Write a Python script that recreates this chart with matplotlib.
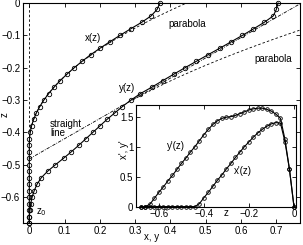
import matplotlib
matplotlib.use('Agg')
import matplotlib.pyplot as plt
import numpy as np

plt.rcParams['font.family'] = ['Liberation Sans', 'DejaVu Sans']
plt.rcParams['font.size'] = 7
plt.rcParams['xtick.direction'] = 'in'
plt.rcParams['ytick.direction'] = 'in'

# ---------------- data ----------------
z = [-0.68, -0.66, -0.64, -0.62, -0.60, -0.58, -0.56, -0.54, -0.52, -0.50,
     -0.48, -0.46, -0.44, -0.42, -0.40, -0.38, -0.36, -0.34, -0.32, -0.30,
     -0.28, -0.26, -0.24, -0.22, -0.20, -0.18, -0.16, -0.14, -0.12, -0.10,
     -0.08, -0.06, -0.04, -0.02, 0.00]

x_of_z = [0, 0, 0, 0, 0, 0, 0, 0, 0, 0,
          0, 0, 0, 0.0005, 0.0025, 0.0064, 0.0122, 0.0200, 0.0297, 0.0413,
          0.0548, 0.0702, 0.0875, 0.1066, 0.1274, 0.1498, 0.1737, 0.2000, 0.228, 0.257,
          0.287, 0.318, 0.345, 0.362, 0.370]

y_of_z = [0, 0, 0.002, 0.004, 0.008, 0.014, 0.022, 0.034, 0.052, 0.074,
          0.097, 0.119, 0.140, 0.160, 0.180, 0.200, 0.220, 0.242, 0.264, 0.288,
          0.315, 0.3474, 0.3781, 0.4094, 0.4413, 0.4737, 0.5064, 0.5392, 0.5718, 0.6039,
          0.6352, 0.6653, 0.6912, 0.7000, 0.7050]

xp_of_z = [0, 0, 0, 0, 0, 0, 0, 0, 0, 0,
           0, 0, 0, 0.05, 0.15, 0.24, 0.34, 0.44, 0.53, 0.63,
           0.72, 0.82, 0.91, 1.00, 1.08, 1.16, 1.23, 1.29, 1.34, 1.38,
           1.40, 1.39, 1.08, 0.62, 0.00]

yp_of_z = [0, 0, 0.04, 0.14, 0.24, 0.33, 0.43, 0.52, 0.62, 0.72,
           0.81, 0.91, 1.00, 1.10, 1.20, 1.29, 1.37, 1.43, 1.47, 1.49,
           1.50, 1.52, 1.55, 1.58, 1.61, 1.63, 1.64, 1.64, 1.62, 1.59,
           1.54, 1.47, 1.12, 0.62, 0.00]

# reference curves (fitted): parabola  v = a*(z - z_start)^2 ; straight line v = s*(z - z_start)
parabola_x = {'a': 2.4, 'z_start': -0.431, 'z_from': -0.431}
parabola_y = {'a': 2.4, 'z_start': -0.649, 'z_from': -0.30}
straight_y = {'s': 1.6, 'z_start': -0.482}

main_xticks = [0, 0.1, 0.2, 0.3, 0.4, 0.5, 0.6, 0.7]
main_yticks = [-0.6, -0.5, -0.4, -0.3, -0.2, -0.1, 0]
inset_xticks = [-0.6, -0.4, -0.2, 0]
inset_yticks = [0, 0.5, 1, 1.5]

# ---------------- figure ----------------
W, H = 303, 245
fig = plt.figure(figsize=(W / 100, H / 100), dpi=100)

ax = fig.add_axes([23 / W, 1 - 223 / H, 277 / W, 220 / H])
ax.set_xlim(-0.0178, 0.767)
ax.set_ylim(-0.68, 0)

lw = 0.8
mk = dict(marker='o', ms=3.2, mfc='none', mec='black', mew=0.6)
dash = (0, (3, 2.5))

# vertical dashed line at x = 0
ax.plot([0, 0], [-0.68, 0], ls=dash, color='black', lw=0.6)
# parabolas
zp = np.linspace(parabola_x['z_from'], 0, 200)
ax.plot(parabola_x['a'] * (zp - parabola_x['z_start']) ** 2, zp,
        ls=dash, color='black', lw=0.6)
zp = np.linspace(parabola_y['z_from'], 0, 200)
ax.plot(parabola_y['a'] * (zp - parabola_y['z_start']) ** 2, zp,
        ls=dash, color='black', lw=0.6)
# straight line
zs = np.array([straight_y['z_start'], 0])
ax.plot(straight_y['s'] * (zs - straight_y['z_start']), zs,
        ls=(0, (4, 1.5, 1, 1.5)), color='black', lw=0.6)

ax.plot(x_of_z, z, color='black', lw=lw, clip_on=False, **mk)
ax.plot(y_of_z, z, color='black', lw=lw, clip_on=False, **mk)

ax.set_xticks(main_xticks)
ax.set_xticklabels(['0', '0.1', '0.2', '0.3', '0.4', '0.5', '0.6', '0.7'])
ax.set_yticks(main_yticks)
ax.set_yticklabels(['\u22120.6', '\u22120.5', '\u22120.4', '\u22120.3', '\u22120.2', '\u22120.1', '0'])
ax.tick_params(top=True, right=True, length=3, width=0.6, pad=2)
for s in ax.spines.values():
    s.set_linewidth(0.8)
ax.set_xlabel('x, y', labelpad=0)
ax.xaxis.set_label_coords((152 - 23) / 277, -0.042)
ax.set_ylabel('z', labelpad=0)
ax.yaxis.set_label_coords(-0.048, (223 - 115) / 220)

def fig_text(px, py, s, **kw):
    fig.text(px / W, 1 - py / H, s, ha='center', va='center', **kw)

fig_text(93, 38, 'x(z)')
fig_text(127, 88, 'y(z)')
fig_text(187, 24, 'parabola')
fig_text(273, 59, 'parabola')
fig.text(50 / W, 1 - 124 / H, 'straight', ha='left', va='center')
fig.text(50 / W, 1 - 133 / H, 'line', ha='left', va='center')
fig_text(41, 212, 'z$_0$')

# ---------------- inset ----------------
axi = fig.add_axes([136 / W, 1 - 206.6 / H, 160 / W, 102 / H])
axi.set_facecolor('white')
axi.set_xlim(-0.702, 0.009)
axi.set_ylim(0, 1.70)
mki = dict(marker='o', ms=2.6, mfc='none', mec='black', mew=0.6)
axi.plot(z, yp_of_z, color='black', lw=lw, clip_on=False, **mki)
axi.plot(z, xp_of_z, color='black', lw=lw, clip_on=False, **mki)
axi.set_xticks(inset_xticks)
axi.set_xticklabels(['\u22120.6', '\u22120.4', '\u22120.2', '0'])
axi.set_yticks(inset_yticks)
axi.set_yticklabels(['0', '0.5', '1', '1.5'])
axi.tick_params(top=True, right=True, length=3, width=0.6, pad=2)
for s in axi.spines.values():
    s.set_linewidth(0.8)

fig_text(226.5, 213, 'z')
fig.text(124 / W, 1 - 150 / H, "x', y'", ha='center', va='center', rotation=90)
fig_text(176, 146, "y'(z)")
fig_text(243, 171, "x'(z)")

fig.savefig('out.png', dpi=100)
